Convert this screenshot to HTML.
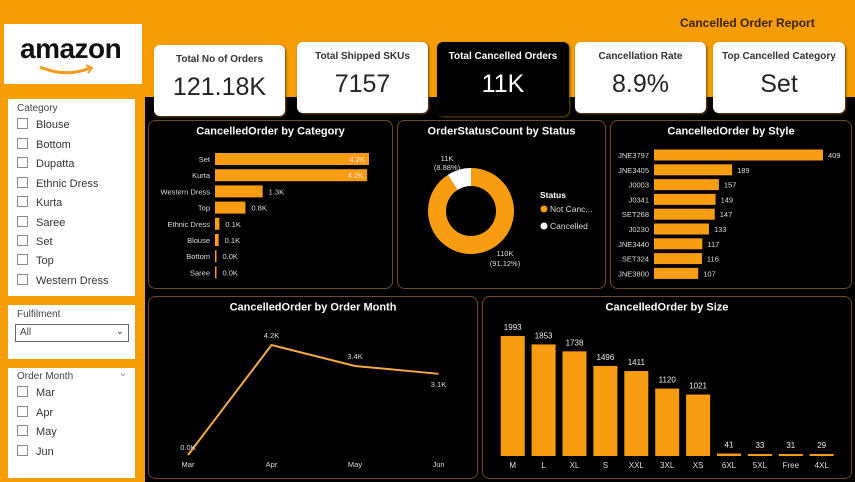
<!DOCTYPE html>
<html><head><meta charset="utf-8"><style>
body{margin:0;width:855px;height:482px;overflow:hidden;background:#f69c05;font-family:"Liberation Sans",sans-serif;position:relative}
.a{position:absolute}
.card{position:absolute;background:#fff;border-radius:6px;text-align:center;box-shadow:1px 1px 2px #6b4a12}
.card .t{font-size:10px;font-weight:bold;color:#333;margin-top:9px}
.card .v{font-size:25px;color:#252423;margin-top:8px}
.sl{position:absolute;background:#fff;font-size:10px;color:#444}
.it{position:absolute;left:9px;font-size:11px;color:#333}
.it span{display:inline-block;width:9px;height:9px;border:1px solid #888;margin-right:8px;vertical-align:-1px}
</style></head><body>
<div class="a" style="left:145px;top:97px;width:710px;height:385px;background:#000"></div>
<div class="a" style="left:680px;top:16px;font-size:12px;font-weight:bold;color:#3b2410">Cancelled Order Report</div>
<div class="a" style="left:4px;top:24px;width:138px;height:60px;background:#fff">
<div style="position:absolute;left:16px;top:9px;font-size:28px;font-weight:bold;color:#111;letter-spacing:-0.5px">amazon</div>
<svg style="position:absolute;left:34px;top:40px" width="60" height="14"><path d="M2 3 Q28 14 52 4" stroke="#f39a1f" stroke-width="3" fill="none"/><path d="M48 1 L54 4 L50 9" stroke="#f39a1f" stroke-width="2" fill="none"/></svg></div>
<div class="card" style="left:154px;top:45px;width:131px;height:71px"><div class="t">Total No of Orders</div><div class="v">121.18K</div></div>
<div class="card" style="left:297px;top:42px;width:131px;height:71px"><div class="t">Total Shipped SKUs</div><div class="v">7157</div></div>
<div class="card" style="left:437px;top:42px;width:132px;height:74px;background:#000"><div class="t" style="color:#fff">Total Cancelled Orders</div><div class="v" style="color:#fff">11K</div></div>
<div class="card" style="left:575px;top:42px;width:131px;height:71px"><div class="t">Cancellation Rate</div><div class="v">8.9%</div></div>
<div class="card" style="left:713px;top:42px;width:132px;height:71px"><div class="t">Top Cancelled Category</div><div class="v">Set</div></div>

<div class="sl" style="left:8px;top:99px;width:127px;height:197px">
<div class="a" style="left:9px;top:4px">Category</div>
<div class="it" style="top:19px"><span></span>Blouse</div>
<div class="it" style="top:39px"><span></span>Bottom</div>
<div class="it" style="top:58px"><span></span>Dupatta</div>
<div class="it" style="top:78px"><span></span>Ethnic Dress</div>
<div class="it" style="top:97px"><span></span>Kurta</div>
<div class="it" style="top:117px"><span></span>Saree</div>
<div class="it" style="top:136px"><span></span>Set</div>
<div class="it" style="top:155px"><span></span>Top</div>
<div class="it" style="top:175px"><span></span>Western Dress</div>
</div>
<div class="sl" style="left:8px;top:305px;width:127px;height:54px">
<div class="a" style="left:9px;top:4px">Fulfilment</div>
<div class="a" style="left:7px;top:19px;width:112px;height:16px;border:1px solid #666;font-size:10px;line-height:16px;text-indent:4px">All<span style="position:absolute;right:4px;top:-1px">⌄</span></div>
</div>
<div class="sl" style="left:8px;top:368px;width:127px;height:110px">
<div class="a" style="left:9px;top:3px">Order Month</div>
<div class="a" style="right:8px;top:0px;color:#888">⌄</div>
<div class="it" style="top:18px"><span></span>Mar</div>
<div class="it" style="top:38px"><span></span>Apr</div>
<div class="it" style="top:57px"><span></span>May</div>
<div class="it" style="top:77px"><span></span>Jun</div>
</div>

<svg id="ch" class="a" style="left:0;top:0" width="855" height="482" font-family="Liberation Sans, sans-serif"></svg>
<script>
const catLabels=["Set","Kurta","Western Dress","Top","Ethnic Dress","Blouse","Bottom","Saree"];
const catValues=[4200,4150,1300,830,120,100,40,10];
const catText=["4.2K","4.2K","1.3K","0.8K","0.1K","0.1K","0.0K","0.0K"];
const styleLabels=["JNE3797","JNE3405","J0003","J0341","SET268","J0230","JNE3440","SET324","JNE3800"];
const styleValues=[409,189,157,149,147,133,117,116,107];
const statusLabels=["Not Cancelled","Cancelled"];
const statusValues=[110,11];
const statusText=["110K\n(91.12%)","11K\n(8.88%)"];
const months=["Mar","Apr","May","Jun"];
const monthValues=[0,4200,3400,3100];
const monthText=["0.0K","4.2K","3.4K","3.1K"];
const sizes=["M","L","XL","S","XXL","3XL","XS","6XL","5XL","Free","4XL"];
const sizeValues=[1993,1853,1738,1496,1411,1120,1021,41,33,31,29];

const svg=document.getElementById('ch');const NS="http://www.w3.org/2000/svg";
function E(t,a,p){const e=document.createElementNS(NS,t);for(const k in a)e.setAttribute(k,a[k]);(p||svg).appendChild(e);return e;}
function T(x,y,s,size,anchor,fill,bold){const e=E('text',{x:x,y:y,'font-size':size,'text-anchor':anchor||'start',fill:fill||'#fff'});if(bold)e.setAttribute('font-weight','bold');e.textContent=s;return e;}
const OR="#f89c12";
function panel(x,y,w,h,title,name){const r=E('rect',{x:x,y:y,width:w,height:h,rx:7,fill:'#000',stroke:'#6e4a28','stroke-width':1});


const t=T(x+w/2,y+14,title,11,'middle','#fff',true);

}
panel(148.5,120.5,244,168,"CancelledOrder by Category","category-chart");
panel(397.5,120.5,208,168,"OrderStatusCount by Status","status-chart");
panel(610.5,120.5,241,168,"CancelledOrder by Style","style-chart");
panel(148.5,296.5,329,182,"CancelledOrder by Order Month","month-chart");
panel(482.5,296.5,369,182,"CancelledOrder by Size","size-chart");

const cx0=215,cW=154,cMax=4200,cY0=153,cStep=16.2;
const xc=v=>v/cMax*cW, yc=i=>cY0+i*cStep;
catLabels.forEach((l,i)=>{
 const r=E('rect',{x:cx0,y:yc(i),width:Math.max(1.5,xc(catValues[i])),height:12,fill:OR});
 
 
 T(cx0-5,yc(i)+9,l,7.5,'end','#ddd');
 const w=xc(catValues[i]);
 if(w>60)T(cx0+w-4,yc(i)+9,catText[i],7.5,'end','#fde');else T(cx0+Math.max(1.5,w)+6,yc(i)+9,catText[i],7.5,'start','#ddd');
});
const sx0=654,sW=169,sMax=409,sY0=149.5,sStep=14.8;
const xs=v=>v/sMax*sW, ys=i=>sY0+i*sStep;
styleLabels.forEach((l,i)=>{
 const r=E('rect',{x:sx0,y:ys(i),width:xs(styleValues[i]),height:11,fill:OR});
 
 
 T(sx0-5,ys(i)+8.5,l,7.5,'end','#ddd');
 T(sx0+xs(styleValues[i])+5,ys(i)+8.5,styleValues[i],7.5,'start','#ddd');
});
const dcx=471,dcy=211,R=43,r0=25,tot=statusValues.reduce((a,b)=>a+b,0);
const cols=[OR,'#fff'];
let start=-Math.PI/2-2*Math.PI*statusValues[1]/tot;
[1,0].forEach(i=>{
 const a0=start,a1=start+2*Math.PI*statusValues[i]/tot;start=a1;
 const p=(a,rr)=>[dcx+rr*Math.cos(a),dcy+rr*Math.sin(a)];
 const lg=(a1-a0)>Math.PI?1:0;
 const [x1,y1]=p(a0,R),[x2,y2]=p(a1,R),[x3,y3]=p(a1,r0),[x4,y4]=p(a0,r0);
 const s=E('path',{d:`M${x1} ${y1}A${R} ${R} 0 ${lg} 1 ${x2} ${y2}L${x3} ${y3}A${r0} ${r0} 0 ${lg} 0 ${x4} ${y4}Z`,fill:cols[i]});
 
 
});
statusText[1].split("\n").forEach((s,k)=>T(447,161+k*9,s,7.5,'middle','#ddd'));
statusText[0].split("\n").forEach((s,k)=>T(505,256+k*10,s,7.5,'middle','#ddd'));
T(540,198,"Status",8.5,'start','#fff',true);
E('circle',{cx:544,cy:209,r:3.5,fill:OR});T(550,212,"Not Canc...",8.5,'start','#ddd');
E('circle',{cx:544,cy:226,r:3.5,fill:'#fff'});T(550,229,"Cancelled",8.5,'start','#ddd');
const mx=i=>188+i*83.5, my=v=>455-v/4200*110;
const pl=E('polyline',{points:monthValues.map((v,i)=>mx(i)+','+my(v)).join(' '),fill:'none',stroke:'#f5a840','stroke-width':2});


months.forEach((m,i)=>{T(mx(i),467,m,7.5,'middle','#ddd');
 const v=monthValues[i];const ty=i==0?my(v)-5:(i==3?my(v)+13:my(v)-7);T(mx(i),ty,monthText[i],7.5,'middle','#ddd');});
const bx=i=>500.7+i*30.9, base=456, bh=v=>v/1993*120;
sizes.forEach((s,i)=>{
 const h=Math.max(2,bh(sizeValues[i]));
 const r=E('rect',{x:bx(i),y:base-h,width:24,height:h,fill:OR});
 
 
 T(bx(i)+12,base-h-6,sizeValues[i],8,'middle','#eee');
 T(bx(i)+12,468,s,8,'middle','#ddd');
});
</script>
</body></html>
